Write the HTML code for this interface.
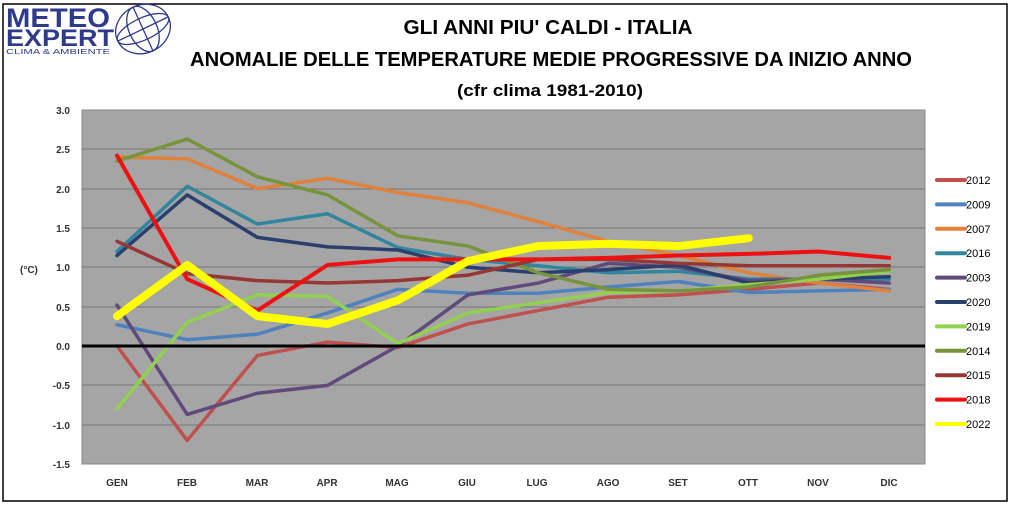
<!DOCTYPE html>
<html><head><meta charset="utf-8"><style>
body{margin:0;background:#fff;}
svg{display:block;font-family:"Liberation Sans",sans-serif;}
</style></head><body>
<svg width="1014" height="507" viewBox="0 0 1014 507">
<rect x="3" y="4" width="1004" height="497" fill="#fff" stroke="#000" stroke-width="1.5"/>
<!-- logo -->
<text x="6" y="27" font-size="27" font-weight="bold" fill="#2e3a8c" textLength="104" lengthAdjust="spacingAndGlyphs">METEO</text>
<text x="6" y="46" font-size="24" font-weight="bold" fill="#2e3a8c" textLength="108" lengthAdjust="spacingAndGlyphs">EXPERT</text>
<text x="6" y="54" font-size="7.5" fill="#2e3a8c" textLength="104" lengthAdjust="spacingAndGlyphs">CLIMA &amp; AMBIENTE</text>
<g fill="none" stroke="#2e3a8c" stroke-width="1.3">
<ellipse cx="143" cy="29" rx="28" ry="24" transform="rotate(-25 143 29)"/>
<ellipse cx="143" cy="29" rx="14" ry="24" transform="rotate(-25 143 29)"/>
<ellipse cx="143" cy="29" rx="28" ry="11" transform="rotate(-25 143 29)"/>
<line x1="118" y1="41" x2="168" y2="17"/><line x1="133" y1="7" x2="153" y2="51"/>
</g>
<g font-weight="bold" text-anchor="middle" fill="#000">
<text x="548" y="34" font-size="20" textLength="289" lengthAdjust="spacingAndGlyphs">GLI ANNI PIU' CALDI - ITALIA</text>
<text x="551" y="66" font-size="20" textLength="722" lengthAdjust="spacingAndGlyphs">ANOMALIE DELLE TEMPERATURE MEDIE PROGRESSIVE DA INIZIO ANNO</text>
<text x="550" y="96" font-size="17" textLength="186" lengthAdjust="spacingAndGlyphs">(cfr clima 1981-2010)</text>
</g>
<rect x="82" y="110" width="843" height="354" fill="#a5a5a5" stroke="#888"/>
<g stroke="#777" stroke-width="1">
<line x1="82" y1="149" x2="925" y2="149"/><line x1="82" y1="189" x2="925" y2="189"/>
<line x1="82" y1="228" x2="925" y2="228"/><line x1="82" y1="267" x2="925" y2="267"/>
<line x1="82" y1="307" x2="925" y2="307"/><line x1="82" y1="385" x2="925" y2="385"/>
<line x1="82" y1="425" x2="925" y2="425"/>
</g>
<g font-size="10" font-weight="bold" text-anchor="end" fill="#333">
<text x="70" y="114">3.0</text><text x="70" y="153">2.5</text><text x="70" y="193">2.0</text>
<text x="70" y="232">1.5</text><text x="70" y="271">1.0</text><text x="70" y="311">0.5</text>
<text x="70" y="350">0.0</text><text x="70" y="389">-0.5</text><text x="70" y="429">-1.0</text>
<text x="70" y="468">-1.5</text>
</g>
<text x="20" y="273" font-size="10" font-weight="bold" fill="#333">(°C)</text>
<g font-size="10" font-weight="bold" text-anchor="middle" fill="#333">
<text x="117" y="486">GEN</text><text x="187" y="486">FEB</text><text x="257" y="486">MAR</text>
<text x="327" y="486">APR</text><text x="397" y="486">MAG</text><text x="467" y="486">GIU</text>
<text x="537" y="486">LUG</text><text x="608" y="486">AGO</text><text x="678" y="486">SET</text>
<text x="748" y="486">OTT</text><text x="818" y="486">NOV</text><text x="889" y="486">DIC</text>
</g>
<g id="lines" fill="none" stroke-linejoin="round" stroke-linecap="round"></g>
<line x1="82" y1="346" x2="925" y2="346" stroke="#000" stroke-width="3"/>
<g id="top" fill="none" stroke-linejoin="round" stroke-linecap="round"></g>
<g id="leg" font-size="11"></g>
</svg>
<script>
var ns="http://www.w3.org/2000/svg";
function X(i){return 117+i*70.2;}function Y(v){return 346-v*78.7;}
var S=[
["2012","#c0504d",[0,-1.2,-0.12,0.05,-0.02,0.28,0.45,0.62,0.65,0.72,0.8,0.72],3.5],
["2009","#4f81bd",[0.27,0.08,0.15,0.42,0.72,0.67,0.67,0.75,0.82,0.68,0.7,0.72],3.5],
["2007","#e0823c",[2.4,2.38,2.0,2.13,1.95,1.82,1.58,1.33,1.15,0.93,0.8,0.7],3.5],
["2016","#31859c",[1.2,2.03,1.55,1.68,1.25,1.1,1.02,0.93,0.95,0.85,0.85,0.85],3.5],
["2003","#604a7b",[0.52,-0.87,-0.6,-0.5,0.0,0.65,0.8,1.05,1.0,0.83,0.85,0.8],3.5],
["2020","#2a3f6e",[1.15,1.92,1.38,1.26,1.22,1.0,0.93,0.97,1.03,0.8,0.85,0.88],3.5],
["2019","#92d050",[-0.8,0.3,0.65,0.63,0.03,0.42,0.55,0.68,0.7,0.78,0.85,0.95],3.5],
["2014","#77933c",[2.35,2.63,2.15,1.92,1.4,1.27,0.93,0.72,0.7,0.75,0.9,0.97],3.5],
["2015","#953735",[1.33,0.92,0.83,0.8,0.83,0.9,1.1,1.1,1.05,1.02,1.02,1.02],3.5],
["2018","#ee1111",[2.42,0.85,0.45,1.03,1.1,1.1,1.1,1.12,1.15,1.17,1.2,1.12],4],
["2022","#ffff00",[0.38,1.03,0.38,0.28,0.58,1.08,1.27,1.3,1.27,1.37],8]];
var g=document.getElementById("lines"),t=document.getElementById("top"),L=document.getElementById("leg");
S.forEach(function(s,k){var p=document.createElementNS(ns,"polyline");
p.setAttribute("points",s[2].map(function(v,i){return X(i)+","+Y(v)}).join(" "));
p.setAttribute("stroke",s[1]);p.setAttribute("stroke-width",s[3]);
(k>=9?t:g).appendChild(p);
var y=180+k*24.4;var l=document.createElementNS(ns,"line");
l.setAttribute("x1",937);l.setAttribute("x2",965);l.setAttribute("y1",y);l.setAttribute("y2",y);
l.setAttribute("stroke",s[1]);l.setAttribute("stroke-width",4);l.setAttribute("stroke-linecap","round");L.appendChild(l);
var tx=document.createElementNS(ns,"text");tx.setAttribute("x",966);tx.setAttribute("y",y+4);tx.textContent=s[0];L.appendChild(tx);});
</script>
</body></html>
